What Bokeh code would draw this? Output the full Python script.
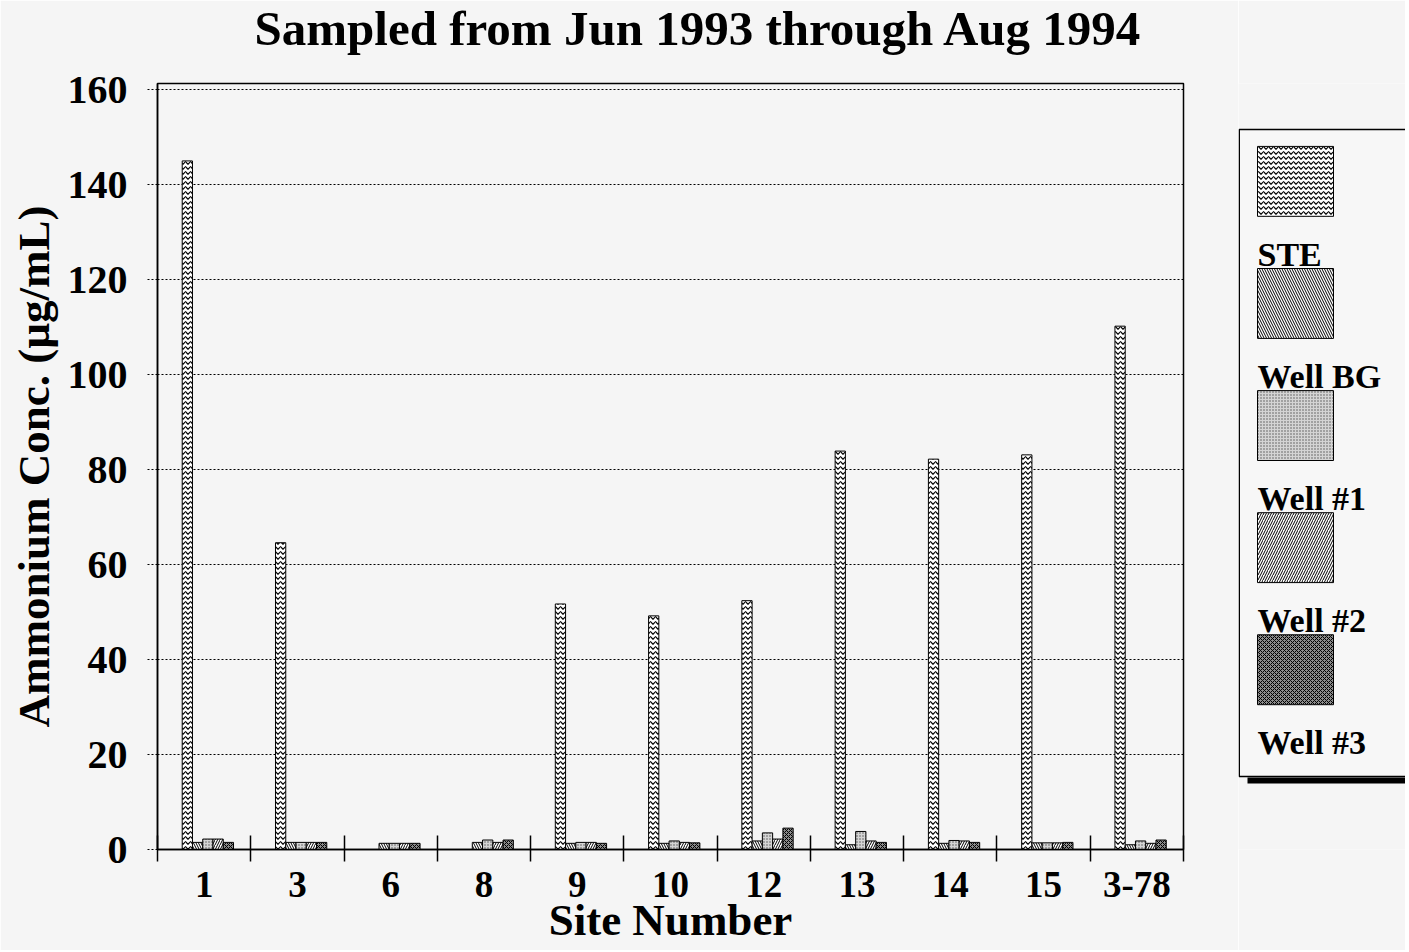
from bokeh.plotting import figure
from bokeh.models import Range1d, FixedTicker, ColumnDataSource, Title
from bokeh.layouts import row
from bokeh.embed import file_html
from bokeh.resources import INLINE
from bokeh.core.properties import value

# ---------------- data ----------------
sites = ["1", "3", "6", "8", "9", "10", "12", "13", "14", "15", "3-78"]
series = ["STE", "Well BG", "Well #1", "Well #2", "Well #3"]
ste = [145.0, 64.6, 0.0, 0.0, 51.7, 49.2, 52.4, 83.9, 82.2, 83.1, 110.2]
well_bg = [1.5, 1.5, 1.3, 1.5, 1.3, 1.3, 1.8, 1.0, 1.3, 1.4, 1.0]
well_1 = [2.2, 1.5, 1.3, 2.0, 1.5, 1.8, 3.5, 3.8, 1.9, 1.4, 1.8]
well_2 = [2.2, 1.5, 1.3, 1.5, 1.5, 1.5, 2.2, 1.8, 1.8, 1.4, 1.3]
well_3 = [1.5, 1.5, 1.3, 2.0, 1.3, 1.4, 4.5, 1.5, 1.5, 1.5, 2.0]
y_ticks = [0, 20, 40, 60, 80, 100, 120, 140, 160]

title_text = "Sampled from Jun 1993 through Aug 1994"
x_title = "Site Number"
y_title = "Ammonium Conc. (µg/mL)"

FONT = "Liberation Serif"
BG = "#f5f5f5"

values = [ste, well_bg, well_1, well_2, well_3]
centers = [i + 0.5 for i in range(len(sites))]

styles = [
    dict(fill_color="white", hatch_pattern="horizontal_wave", hatch_scale=5, hatch_weight=1.2, hatch_color="black"),
    dict(fill_color="white", hatch_pattern="left_diagonal_line", hatch_scale=5, hatch_weight=1, hatch_color="black"),
    dict(fill_color="#d4d4d4", hatch_pattern="dot", hatch_scale=3, hatch_weight=1, hatch_color="#555555"),
    dict(fill_color="white", hatch_pattern="right_diagonal_line", hatch_scale=5, hatch_weight=1, hatch_color="black"),
    dict(fill_color="#8c8c8c", hatch_pattern="diagonal_cross", hatch_scale=4, hatch_weight=1, hatch_color="black"),
]

MAIN_W, H = 1238, 950
LEG_W = 167

# ---------------- main plot ----------------
p = figure(width=MAIN_W, height=H, title=None,
           x_range=Range1d(0, len(sites)),
           y_range=Range1d(0, 161.3),
           output_backend="svg", toolbar_location=None,
           min_border_left=157, min_border_right=55,
           min_border_top=82, min_border_bottom=H - 849)
p.background_fill_color = BG
p.border_fill_color = BG
p.outline_line_color = "black"
p.outline_line_width = 1.5

# spacer panel between frame and title, so that the title sits near the top edge
p.add_layout(Title(text=" ", text_font_size="10px", standoff=13, text_color=BG), "above")
p.add_layout(Title(text=title_text, align="left", offset=97, standoff=0, vertical_align="top",
                   text_font=FONT, text_font_style="bold", text_font_size="49px",
                   text_color="black"), "above")

n = len(series)
bw = 0.11
for i, (vals, st) in enumerate(zip(values, styles)):
    off = (i - (n - 1) / 2) * bw + 0.04
    src = ColumnDataSource(dict(x=[c + off for c in centers], top=vals, site=sites))
    p.vbar(x="x", top="top", width=bw, source=src, line_color="black", line_width=1, **st)

# x axis: labels at category centres, ticks at category boundaries
xaxis = p.xaxis[0]
xaxis.ticker = FixedTicker(ticks=centers, minor_ticks=list(range(0, len(sites) + 1)))
xaxis.major_label_overrides = {c: s for c, s in zip(centers, sites)}
xaxis.major_tick_line_color = None
xaxis.major_tick_in = 0
xaxis.major_tick_out = 0
xaxis.minor_tick_in = 14
xaxis.minor_tick_out = 12
xaxis.minor_tick_line_color = "black"
xaxis.minor_tick_line_width = 1.5
xaxis.axis_line_width = 1.5
xaxis.major_label_text_font = FONT
xaxis.major_label_text_font_style = "bold"
xaxis.major_label_text_font_size = "37px"
xaxis.major_label_text_color = "black"
xaxis.major_label_standoff = 10
xaxis.axis_label = x_title
xaxis.axis_label_text_font = FONT
xaxis.axis_label_text_font_style = "bold"
xaxis.axis_label_text_font_size = "45px"
xaxis.axis_label_text_color = "black"
xaxis.axis_label_standoff = -5

# y axis
ya = p.yaxis[0]
ya.ticker = FixedTicker(ticks=y_ticks)
ya.minor_tick_line_color = None
ya.major_tick_in = 0
ya.major_tick_out = 10
ya.major_tick_line_dash = "2 2"
ya.major_tick_line_color = "black"
ya.axis_line_width = 1.5
ya.major_label_text_font = FONT
ya.major_label_text_font_style = "bold"
ya.major_label_text_font_size = "40px"
ya.major_label_text_color = "black"
ya.major_label_standoff = 20
ya.axis_label = y_title
ya.axis_label_text_font = FONT
ya.axis_label_text_font_style = "bold"
ya.axis_label_text_font_size = "45px"
ya.axis_label_text_color = "black"
ya.axis_label_standoff = 6

p.xgrid.visible = False
p.ygrid.ticker = FixedTicker(ticks=y_ticks)
p.ygrid.grid_line_color = "black"
p.ygrid.grid_line_dash = "2 2"
p.ygrid.grid_line_width = 1

# ---------------- legend panel ----------------
# its frame is aligned with the main frame (page y 82..849), so page coordinates are used
lg = figure(width=LEG_W, height=H, x_range=Range1d(MAIN_W, MAIN_W + LEG_W), y_range=Range1d(849, 82),
            x_axis_type=None, y_axis_type=None,
            output_backend="svg", toolbar_location=None, min_border=0)
lg.background_fill_color = BG
lg.border_fill_color = BG
lg.outline_line_color = None
lg.grid.visible = False

lg.quad(left=[1247], right=[1420], top=[777], bottom=[783], fill_color="black", line_color=None)
lg.quad(left=[1238.75], right=[1420], top=[128], bottom=[776], fill_color="#f7f7f7",
        line_color="black", line_width=1.5)
tops = [145 + 122.25 * i for i in range(len(series))]
for top, st in zip(tops, styles):
    lg.quad(left=[1257], right=[1333], top=[top], bottom=[top + 70],
            line_color="black", line_width=1, **st)
lg.text(x=[1257] * len(series), y=[t + 108 for t in tops], text=series, text_font=value(FONT),
        text_font_style="bold", text_font_size="34px", text_color="black",
        text_baseline="middle", text_align="left")

layout = row(p, lg, spacing=0)
open("out.html", "w").write(file_html(layout, INLINE))
